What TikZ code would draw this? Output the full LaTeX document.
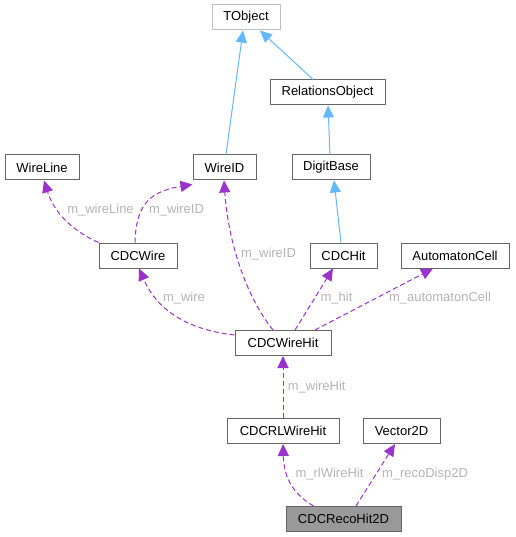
\documentclass[tikz,border=0pt]{standalone}
\usepackage{fontspec}
\setmainfont{Liberation Sans}
\usetikzlibrary{arrows.meta}
\definecolor{edgeblue}{HTML}{63B8FF}
\definecolor{edgepurple}{HTML}{9A32CD}
\definecolor{boxgray}{HTML}{666666}
\definecolor{lightbox}{HTML}{BFBFBF}
\definecolor{labelgray}{HTML}{B4B4B4}
\definecolor{focusfill}{HTML}{999999}
\tikzset{
  cls/.style={draw=boxgray, line width=1pt, fill=white, minimum height=25pt, inner sep=0pt,
    font=\fontsize{13}{15}\selectfont, text=black},
  inherit/.style={draw=edgeblue, line width=1pt, -{Triangle[length=12pt,width=11pt]}},
  usage/.style={draw=edgepurple, line width=1pt, dash pattern=on 5pt off 3pt,
    -{Triangle[length=12pt,width=11pt]}},
  lbl/.style={text=labelgray, font=\fontsize{13}{15}\selectfont, inner sep=0pt}
}
\begin{document}
\begin{tikzpicture}[x=1pt,y=-1pt]
\useasboundingbox (0,0) rectangle (515,537);
% nodes
\node[cls, draw=lightbox, minimum width=68pt] (tobject) at (246,17.5) {TObject};
\node[cls, minimum width=115pt] (relobj) at (327.5,92.5) {RelationsObject};
\node[cls, minimum width=74pt] (wireline) at (42,167.5) {WireLine};
\node[cls, minimum width=63pt] (wireid) at (224.5,167.5) {WireID};
\node[cls, minimum width=78pt] (digitbase) at (331,167.5) {DigitBase};
\node[cls, minimum width=78pt] (cdcwire) at (138,255.5) {CDCWire};
\node[cls, minimum width=67pt] (cdchit) at (343.5,255.5) {CDCHit};
\node[cls, minimum width=108pt] (autocell) at (455,255.5) {AutomatonCell};
\node[cls, minimum width=96pt] (wirehit) at (283,343) {CDCWireHit};
\node[cls, minimum width=112pt] (rlwirehit) at (283,431) {CDCRLWireHit};
\node[cls, minimum width=77pt] (vector2d) at (401.5,431) {Vector2D};
\node[cls, fill=focusfill, minimum width=115pt] (recohit) at (343.5,519) {CDCRecoHit2D};
% inheritance
\draw[inherit] ([xshift=1.5pt]wireid.north) -- ([xshift=-3pt]tobject.south);
\draw[inherit] ([xshift=-14.5pt]relobj.north) -- ([xshift=14pt]tobject.south);
\draw[inherit] ([xshift=-1pt]digitbase.north) -- ([xshift=0.5pt]relobj.south);
\draw[inherit] ([xshift=-2.5pt]cdchit.north) -- ([xshift=3pt]digitbase.south);
% usage
\draw[usage] (cdcwire.north west) .. controls (75,232) and (55,215) .. ([xshift=2pt]wireline.south);
\draw[usage] ([xshift=-3pt]cdcwire.north) .. controls (136,210) and (145,192) .. ([yshift=-4pt]wireid.south west);
\draw[usage] ([xshift=-10pt]wirehit.north) .. controls (245,295) and (228,240) .. ([xshift=-0.5pt]wireid.south);
\draw[usage] ([yshift=-5pt]wirehit.north west) .. controls (190,330) and (158,312) .. ([xshift=1pt]cdcwire.south);
\draw[usage] ([xshift=12pt]wirehit.north) -- ([xshift=-10.5pt]cdchit.south);
\draw[usage] ([xshift=32pt]wirehit.north) -- ([xshift=-22pt]autocell.south);
\draw[usage] (rlwirehit.north) -- (wirehit.south);
\draw[usage] ([xshift=-30pt]recohit.north) .. controls (295,495) and (284,480) .. (rlwirehit.south);
\draw[usage] ([xshift=12.5pt]recohit.north) -- ([xshift=-6.5pt]vector2d.south);
% labels
\node[lbl] (l1) at (100.5,210) {m\_wireLine};
\node[lbl] (l2) at (176.5,210) {m\_wireID};
\node[lbl] (l3) at (268.5,254) {m\_wireID};
\node[lbl] (l4) at (184,298) {m\_wire};
\node[lbl] (l5) at (336.5,298) {m\_hit};
\node[lbl] (l6) at (440,298) {m\_automatonCell};
\node[lbl] (l7) at (316.7,386.7) {m\_wireHit};
\node[lbl] (l8) at (329.5,474) {m\_rlWireHit};
\node[lbl] (l9) at (425,474) {m\_recoDisp2D};
\end{tikzpicture}
\end{document}
